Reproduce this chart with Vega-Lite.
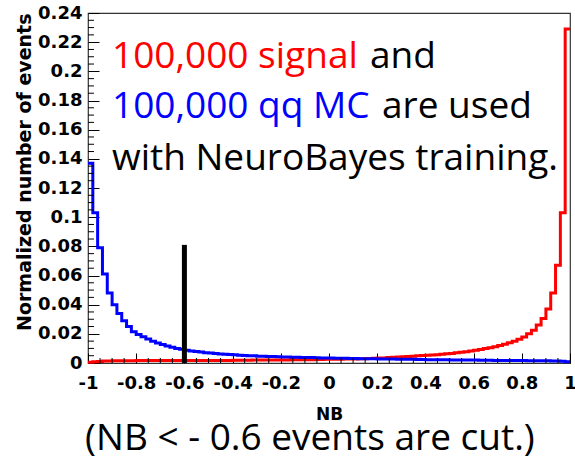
{
  "$schema": "https://vega.github.io/schema/vega-lite/v6.json",
  "autosize": "none",
  "width": 482,
  "height": 350,
  "padding": {"left": 88, "top": 13, "right": 5, "bottom": 95},
  "background": "white",
  "config": {"view": {"stroke": "#333333", "strokeWidth": 1.2}},
  "resolve": {"axis": {"x": "independent", "y": "independent"}},
  "datasets": {
    "hist": [
      {"x": -1, "signal": 0.0006, "qq": 0.137},
      {"x": -0.98, "signal": 0.0009, "qq": 0.103},
      {"x": -0.96, "signal": 0.0011, "qq": 0.079},
      {"x": -0.94, "signal": 0.0013, "qq": 0.061},
      {"x": -0.92, "signal": 0.0014, "qq": 0.048},
      {"x": -0.9, "signal": 0.0015, "qq": 0.040},
      {"x": -0.88, "signal": 0.0015, "qq": 0.034},
      {"x": -0.86, "signal": 0.0016, "qq": 0.029},
      {"x": -0.84, "signal": 0.0016, "qq": 0.025},
      {"x": -0.82, "signal": 0.0016, "qq": 0.0215},
      {"x": -0.8, "signal": 0.0017, "qq": 0.0195},
      {"x": -0.78, "signal": 0.0017, "qq": 0.018},
      {"x": -0.76, "signal": 0.0017, "qq": 0.0165},
      {"x": -0.74, "signal": 0.0017, "qq": 0.015},
      {"x": -0.72, "signal": 0.0017, "qq": 0.0138},
      {"x": -0.7, "signal": 0.0017, "qq": 0.0127},
      {"x": -0.68, "signal": 0.0017, "qq": 0.0117},
      {"x": -0.66, "signal": 0.0017, "qq": 0.0108},
      {"x": -0.64, "signal": 0.0017, "qq": 0.0100},
      {"x": -0.62, "signal": 0.0017, "qq": 0.0094},
      {"x": -0.6, "signal": 0.0018, "qq": 0.0088},
      {"x": -0.58, "signal": 0.0018, "qq": 0.0083},
      {"x": -0.56, "signal": 0.0018, "qq": 0.0079},
      {"x": -0.54, "signal": 0.0018, "qq": 0.0075},
      {"x": -0.52, "signal": 0.0018, "qq": 0.0071},
      {"x": -0.5, "signal": 0.0018, "qq": 0.0068},
      {"x": -0.48, "signal": 0.0018, "qq": 0.0065},
      {"x": -0.46, "signal": 0.0018, "qq": 0.0062},
      {"x": -0.44, "signal": 0.0018, "qq": 0.0060},
      {"x": -0.42, "signal": 0.0018, "qq": 0.0058},
      {"x": -0.4, "signal": 0.0019, "qq": 0.0056},
      {"x": -0.38, "signal": 0.0019, "qq": 0.0054},
      {"x": -0.36, "signal": 0.0019, "qq": 0.0052},
      {"x": -0.34, "signal": 0.0019, "qq": 0.0050},
      {"x": -0.32, "signal": 0.0020, "qq": 0.0049},
      {"x": -0.3, "signal": 0.0020, "qq": 0.0047},
      {"x": -0.28, "signal": 0.0020, "qq": 0.0046},
      {"x": -0.26, "signal": 0.0020, "qq": 0.0045},
      {"x": -0.24, "signal": 0.0021, "qq": 0.0044},
      {"x": -0.22, "signal": 0.0021, "qq": 0.0043},
      {"x": -0.2, "signal": 0.0021, "qq": 0.0042},
      {"x": -0.18, "signal": 0.0021, "qq": 0.0041},
      {"x": -0.16, "signal": 0.0022, "qq": 0.0040},
      {"x": -0.14, "signal": 0.0022, "qq": 0.0039},
      {"x": -0.12, "signal": 0.0022, "qq": 0.0038},
      {"x": -0.1, "signal": 0.0023, "qq": 0.0037},
      {"x": -0.08, "signal": 0.0023, "qq": 0.0037},
      {"x": -0.06, "signal": 0.0024, "qq": 0.0036},
      {"x": -0.04, "signal": 0.0024, "qq": 0.0035},
      {"x": -0.02, "signal": 0.0025, "qq": 0.0035},
      {"x": 0, "signal": 0.0025, "qq": 0.0034},
      {"x": 0.02, "signal": 0.0026, "qq": 0.0033},
      {"x": 0.04, "signal": 0.0026, "qq": 0.0033},
      {"x": 0.06, "signal": 0.0027, "qq": 0.0032},
      {"x": 0.08, "signal": 0.0028, "qq": 0.0031},
      {"x": 0.1, "signal": 0.0028, "qq": 0.0031},
      {"x": 0.12, "signal": 0.0029, "qq": 0.0030},
      {"x": 0.14, "signal": 0.0030, "qq": 0.0030},
      {"x": 0.16, "signal": 0.0031, "qq": 0.0029},
      {"x": 0.18, "signal": 0.0032, "qq": 0.0029},
      {"x": 0.2, "signal": 0.0034, "qq": 0.0028},
      {"x": 0.22, "signal": 0.0035, "qq": 0.0028},
      {"x": 0.24, "signal": 0.0037, "qq": 0.0027},
      {"x": 0.26, "signal": 0.0039, "qq": 0.0027},
      {"x": 0.28, "signal": 0.0041, "qq": 0.0026},
      {"x": 0.3, "signal": 0.0043, "qq": 0.0026},
      {"x": 0.32, "signal": 0.0045, "qq": 0.0025},
      {"x": 0.34, "signal": 0.0047, "qq": 0.0025},
      {"x": 0.36, "signal": 0.0049, "qq": 0.0024},
      {"x": 0.38, "signal": 0.0051, "qq": 0.0024},
      {"x": 0.4, "signal": 0.0053, "qq": 0.0023},
      {"x": 0.42, "signal": 0.0055, "qq": 0.0023},
      {"x": 0.44, "signal": 0.0057, "qq": 0.0023},
      {"x": 0.46, "signal": 0.0060, "qq": 0.0022},
      {"x": 0.48, "signal": 0.0063, "qq": 0.0022},
      {"x": 0.5, "signal": 0.0066, "qq": 0.0021},
      {"x": 0.52, "signal": 0.0070, "qq": 0.0021},
      {"x": 0.54, "signal": 0.0074, "qq": 0.0021},
      {"x": 0.56, "signal": 0.0078, "qq": 0.0020},
      {"x": 0.58, "signal": 0.0083, "qq": 0.0020},
      {"x": 0.6, "signal": 0.0088, "qq": 0.0020},
      {"x": 0.62, "signal": 0.0093, "qq": 0.0019},
      {"x": 0.64, "signal": 0.0099, "qq": 0.0019},
      {"x": 0.66, "signal": 0.0105, "qq": 0.0019},
      {"x": 0.68, "signal": 0.0112, "qq": 0.0018},
      {"x": 0.7, "signal": 0.0120, "qq": 0.0018},
      {"x": 0.72, "signal": 0.0129, "qq": 0.0018},
      {"x": 0.74, "signal": 0.0139, "qq": 0.0017},
      {"x": 0.76, "signal": 0.0150, "qq": 0.0017},
      {"x": 0.78, "signal": 0.0163, "qq": 0.0018},
      {"x": 0.8, "signal": 0.0178, "qq": 0.0017},
      {"x": 0.82, "signal": 0.0200, "qq": 0.0016},
      {"x": 0.84, "signal": 0.0225, "qq": 0.0016},
      {"x": 0.86, "signal": 0.0260, "qq": 0.0016},
      {"x": 0.88, "signal": 0.0305, "qq": 0.0015},
      {"x": 0.9, "signal": 0.0370, "qq": 0.0015},
      {"x": 0.92, "signal": 0.0480, "qq": 0.0014},
      {"x": 0.94, "signal": 0.0670, "qq": 0.0013},
      {"x": 0.96, "signal": 0.1030, "qq": 0.0012},
      {"x": 0.98, "signal": 0.2290, "qq": 0.0008},
      {"x": 1, "signal": 0.2290, "qq": 0.0008}
    ],
    "cut": [{"x": -0.6, "y": 0, "y2": 0.081}],
    "notes": [
      {"x": -0.9004, "y": 0.2023, "t": "100,000 signal", "g": "signal"},
      {"x": 0.17, "y": 0.2023, "t": "and", "g": "plain"},
      {"x": -0.9004, "y": 0.168, "t": "100,000 qq MC", "g": "qq"},
      {"x": 0.22, "y": 0.168, "t": "are used", "g": "plain"},
      {"x": -0.9004, "y": 0.1324, "t": "with NeuroBayes training.", "g": "plain"},
      {"x": -1.012, "y": -0.0597, "t": "(NB < - 0.6 events are cut.)", "g": "plain"}
    ],
    "xminor": [{"v": -0.95}, {"v": -0.9}, {"v": -0.85}, {"v": -0.75}, {"v": -0.7}, {"v": -0.65}, {"v": -0.55}, {"v": -0.5}, {"v": -0.45}, {"v": -0.35}, {"v": -0.3}, {"v": -0.25}, {"v": -0.15}, {"v": -0.1}, {"v": -0.05}, {"v": 0.05}, {"v": 0.1}, {"v": 0.15}, {"v": 0.25}, {"v": 0.3}, {"v": 0.35}, {"v": 0.45}, {"v": 0.5}, {"v": 0.55}, {"v": 0.65}, {"v": 0.7}, {"v": 0.75}, {"v": 0.85}, {"v": 0.9}, {"v": 0.95}],
    "yminor": [{"v": 0.005}, {"v": 0.01}, {"v": 0.015}, {"v": 0.025}, {"v": 0.03}, {"v": 0.035}, {"v": 0.045}, {"v": 0.05}, {"v": 0.055}, {"v": 0.065}, {"v": 0.07}, {"v": 0.075}, {"v": 0.085}, {"v": 0.09}, {"v": 0.095}, {"v": 0.105}, {"v": 0.11}, {"v": 0.115}, {"v": 0.125}, {"v": 0.13}, {"v": 0.135}, {"v": 0.145}, {"v": 0.15}, {"v": 0.155}, {"v": 0.165}, {"v": 0.17}, {"v": 0.175}, {"v": 0.185}, {"v": 0.19}, {"v": 0.195}, {"v": 0.205}, {"v": 0.21}, {"v": 0.215}, {"v": 0.225}, {"v": 0.23}, {"v": 0.235}]
  },
  "layer": [
    {
      "data": {"name": "hist"},
      "mark": {"type": "line", "interpolate": "step-after", "strokeWidth": 3},
      "encoding": {
        "x": {"field": "x", "type": "quantitative",
          "scale": {"domain": [-1, 1], "nice": false, "zero": false},
          "axis": {"orient": "bottom", "offset": -10, "values": [-1, -0.8, -0.6, -0.4, -0.2, 0, 0.2, 0.4, 0.6, 0.8, 1],
            "ticks": true, "tickSize": 10, "tickColor": "#000000", "tickWidth": 1,
            "domain": false, "grid": false, "labelFlush": false, "labelOverlap": false,
            "labelExpr": "datum.value == 0 ? '0' : (datum.value < 0 ? '-' : '') + format(abs(datum.value), '.1~f')",
            "labelFont": "DejaVu Sans", "labelFontWeight": "bold", "labelFontSize": 18, "labelColor": "#000000", "labelPadding": 11,
            "title": "NB", "titleFont": "DejaVu Sans", "titleFontWeight": "bold", "titleFontSize": 17, "titleColor": "#000000",
            "titleY": 66, "titleBaseline": "alphabetic"}},
        "y": {"field": "signal", "type": "quantitative",
          "scale": {"domain": [0, 0.24], "nice": false, "zero": false},
          "axis": {"orient": "left", "offset": -11, "values": [0, 0.02, 0.04, 0.06, 0.08, 0.1, 0.12, 0.14, 0.16, 0.18, 0.2, 0.22, 0.24],
            "ticks": true, "tickSize": 11, "tickColor": "#000000", "tickWidth": 1,
            "domain": false, "grid": false, "labelFlush": false, "labelOverlap": false, "format": ".2~f",
            "labelFont": "DejaVu Sans", "labelFontWeight": "bold", "labelFontSize": 18, "labelColor": "#000000", "labelPadding": 6,
            "title": "Normalized number of events", "titleFont": "DejaVu Sans", "titleFontWeight": "bold", "titleFontSize": 19, "titleColor": "#000000",
            "titleX": -75, "titleY": 0, "titleAngle": -90, "titleAlign": "right", "titleBaseline": "middle"}},
        "color": {"datum": "signal", "type": "nominal",
          "scale": {"domain": ["signal", "qq", "plain"], "range": ["#ff0000", "#0000ff", "#000000"]}, "legend": null}
      }
    },
    {
      "data": {"name": "hist"},
      "mark": {"type": "line", "interpolate": "step-after", "strokeWidth": 3},
      "encoding": {
        "x": {"field": "x", "type": "quantitative", "axis": null},
        "y": {"field": "qq", "type": "quantitative", "axis": null},
        "color": {"datum": "qq", "type": "nominal", "legend": null}
      }
    },
    {
      "data": {"name": "xminor"},
      "mark": {"type": "rule", "strokeWidth": 1, "color": "#000000", "y2Offset": -5},
      "encoding": {
        "x": {"field": "v", "type": "quantitative", "axis": null},
        "y": {"datum": 0, "type": "quantitative", "axis": null},
        "y2": {"datum": 0}
      }
    },
    {
      "data": {"name": "yminor"},
      "mark": {"type": "rule", "strokeWidth": 1, "color": "#000000", "x2Offset": 6},
      "encoding": {
        "y": {"field": "v", "type": "quantitative", "axis": null},
        "x": {"datum": -1, "type": "quantitative", "axis": null},
        "x2": {"datum": -1}
      }
    },
    {
      "data": {"name": "cut"},
      "mark": {"type": "rule", "strokeWidth": 5, "color": "#000000"},
      "encoding": {
        "x": {"field": "x", "type": "quantitative", "axis": null},
        "y": {"field": "y", "type": "quantitative", "axis": null},
        "y2": {"field": "y2"}
      }
    },
    {
      "data": {"name": "notes"},
      "mark": {"type": "text", "font": "Open Sans", "fontSize": 37, "align": "left", "baseline": "alphabetic"},
      "encoding": {
        "x": {"field": "x", "type": "quantitative", "axis": null},
        "y": {"field": "y", "type": "quantitative", "axis": null},
        "text": {"field": "t"},
        "color": {"field": "g", "type": "nominal", "legend": null}
      }
    }
  ]
}
